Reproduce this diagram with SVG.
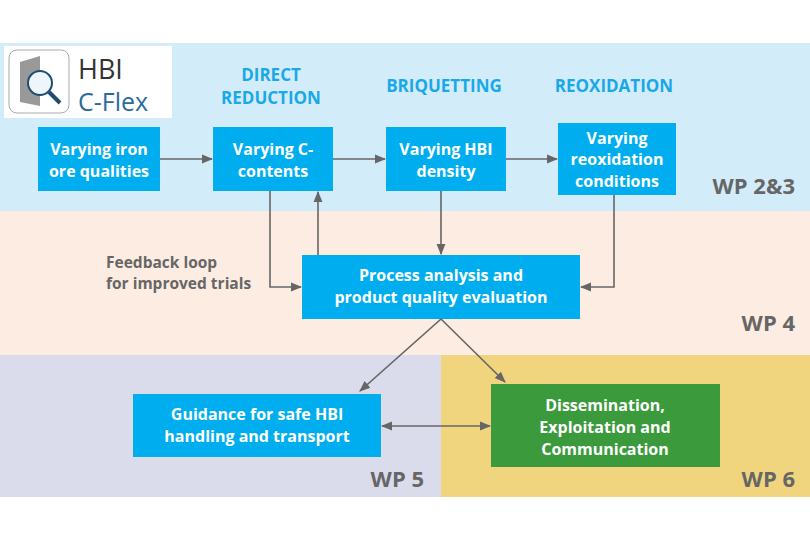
<svg xmlns="http://www.w3.org/2000/svg" width="810" height="540" viewBox="0 0 810 540">
<style>
.box{fill:#00aeef}
.bt{font-family:"Open Sans","Liberation Sans",sans-serif;font-weight:bold;font-size:16px;fill:#fff;text-anchor:middle}
.hd{font-family:"Open Sans","Liberation Sans",sans-serif;font-weight:bold;font-size:17px;fill:#1aa9e8;text-anchor:middle}
.wp{font-family:"Open Sans","Liberation Sans",sans-serif;font-weight:bold;font-size:22px;fill:#666;text-anchor:end}
.ln{stroke:#666;stroke-width:1.6;fill:none}
</style>
<defs><marker id="a" viewBox="0 0 10 10" refX="9" refY="5" markerWidth="7" markerHeight="7" orient="auto-start-reverse"><path d="M0,1 L10,5 L0,9z" fill="#666"/></marker></defs>
<rect width="810" height="540" fill="#fff"/>
<rect y="43" width="810" height="168" fill="#d3ecf9"/>
<rect y="211" width="810" height="144" fill="#fdece2"/>
<rect y="355" width="441" height="142" fill="#dadcec"/>
<rect x="441" y="355" width="369" height="142" fill="#f1d47e"/>
<g id="logo">
<rect x="4" y="46" width="168" height="72" fill="#fff"/>
<rect x="9" y="50" width="60" height="63" rx="8" fill="#fff" stroke="#aaa"/>
<path d="M20,62 L40,56 L40,106 L20,102z" fill="#999"/>
<circle cx="40" cy="83" r="12" fill="#eef6fb" stroke="#1e4d74" stroke-width="2"/>
<line x1="49" y1="92" x2="60" y2="103" stroke="#1e4d74" stroke-width="4"/>
<text x="78" y="79" font-family="Open Sans,Liberation Sans,sans-serif" font-size="27" fill="#333">HBI</text>
<text x="78" y="111" font-family="Open Sans,Liberation Sans,sans-serif" font-size="25" fill="#2b6b9c">C-Flex</text>
</g>
<text class="hd" x="271" y="81">DIRECT</text><text class="hd" x="271" y="104">REDUCTION</text>
<text class="hd" x="444" y="92">BRIQUETTING</text>
<text class="hd" x="614" y="92">REOXIDATION</text>
<text class="wp" x="795" y="194">WP 2&amp;3</text>
<text class="wp" x="795" y="331">WP 4</text>
<text class="wp" x="424" y="487">WP 5</text>
<text class="wp" x="795" y="487">WP 6</text>
<g id="n1"><rect class="box" x="38" y="127" width="122" height="64"/><text class="bt" x="99" y="155">Varying iron</text><text class="bt" x="99" y="177">ore qualities</text></g>
<g id="n2"><rect class="box" x="213" y="127" width="120" height="64"/><text class="bt" x="273" y="155">Varying C-</text><text class="bt" x="273" y="177">contents</text></g>
<g id="n3"><rect class="box" x="386" y="127" width="120" height="64"/><text class="bt" x="446" y="155">Varying HBI</text><text class="bt" x="446" y="177">density</text></g>
<g id="n4"><rect class="box" x="558" y="123" width="118" height="72"/><text class="bt" x="617" y="144">Varying</text><text class="bt" x="617" y="165">reoxidation</text><text class="bt" x="617" y="187">conditions</text></g>
<g id="n5"><rect class="box" x="302" y="255" width="278" height="64"/><text class="bt" x="441" y="281">Process analysis and</text><text class="bt" x="441" y="303">product quality evaluation</text></g>
<g id="n6"><rect class="box" x="133" y="394" width="248" height="63"/><text class="bt" x="257" y="420">Guidance for safe HBI</text><text class="bt" x="257" y="442">handling and transport</text></g>
<g id="n7"><rect x="491" y="384" width="229" height="83" fill="#3a9a3c"/><text class="bt" x="605" y="411">Dissemination,</text><text class="bt" x="605" y="433">Exploitation and</text><text class="bt" x="605" y="455">Communication</text></g>
<text x="106" y="268" font-family="Open Sans,Liberation Sans,sans-serif" font-weight="bold" font-size="15.5" fill="#666">Feedback loop</text>
<text x="106" y="289" font-family="Open Sans,Liberation Sans,sans-serif" font-weight="bold" font-size="15.5" fill="#666">for improved trials</text>
<g id="connectors" class="ln">
<line x1="160" y1="159" x2="212" y2="159" marker-end="url(#a)"/>
<line x1="333" y1="159" x2="385" y2="159" marker-end="url(#a)"/>
<line x1="506" y1="159" x2="557" y2="159" marker-end="url(#a)"/>
<polyline points="270,191 270,287 301,287" marker-end="url(#a)"/>
<line x1="318" y1="255" x2="318" y2="192" marker-end="url(#a)"/>
<line x1="441" y1="191" x2="441" y2="254" marker-end="url(#a)"/>
<polyline points="614,195 614,287 581,287" marker-end="url(#a)"/>
<line x1="441" y1="319" x2="360" y2="391" marker-end="url(#a)"/>
<line x1="441" y1="319" x2="505" y2="382" marker-end="url(#a)"/>
<line x1="382" y1="426" x2="490" y2="426" marker-start="url(#a)" marker-end="url(#a)"/>
</g>
</svg>
